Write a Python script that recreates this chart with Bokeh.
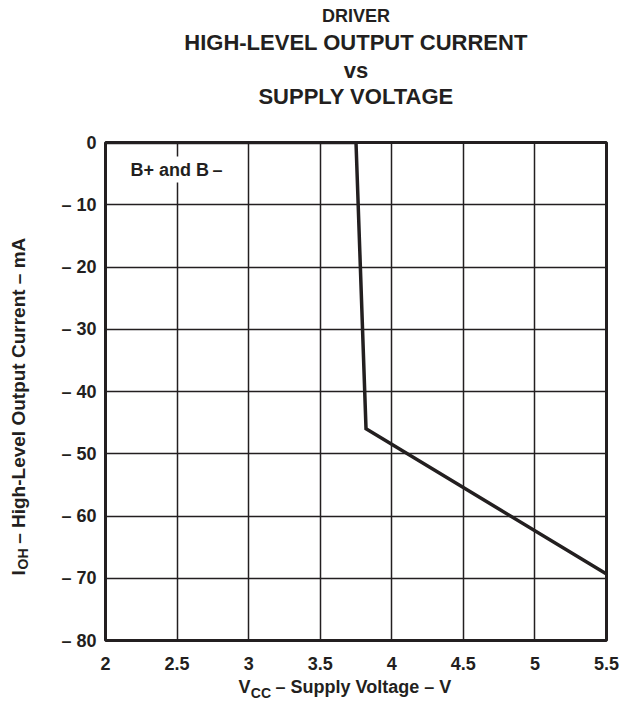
import math
from bokeh.plotting import figure
from bokeh.models import Range1d, FixedTicker, Label, Title
from bokeh.embed import file_html
from bokeh.resources import INLINE

# ---- data ----
vcc = [2.0, 3.75, 3.82, 5.5]
ioh = [0.0, 0.0, -46.0, -69.3]
x_ticks = [2, 2.5, 3, 3.5, 4, 4.5, 5, 5.5]
x_tick_labels = ["2", "2.5", "3", "3.5", "4", "4.5", "5", "5.5"]
y_ticks = [0, -10, -20, -30, -40, -50, -60, -70, -80]
y_tick_labels = ["0", "\u2013 10", "\u2013 20", "\u2013 30", "\u2013 40",
                 "\u2013 50", "\u2013 60", "\u2013 70", "\u2013 80"]
title_lines = ["DRIVER", "HIGH-LEVEL OUTPUT CURRENT", "vs", "SUPPLY VOLTAGE"]
annotation_text = "B+ and B\u2009\u2013"
NB = "\u00a0"
x_label_main = "V" + NB * 4 + " \u2013 Supply Voltage \u2013 V"
x_label_sub = "CC"
y_label_main = "I" + NB * 4 + " \u2013 High-Level Output Current \u2013 mA"
y_label_sub = "OH"

FONT = "Liberation Sans"
INK = "#231f20"

W, H = 626, 711
FL, FR, FT, FB = 105, 606, 142, 640  # frame in page pixels
XMIN, XMAX, YMIN, YMAX = 2.0, 5.5, -80.0, 0.0


def dx(px):
    return XMIN + (px - FL) / (FR - FL) * (XMAX - XMIN)


def dy(py):
    return YMAX - (py - FT) / (FB - FT) * (YMAX - YMIN)


p = figure(width=W, height=H, output_backend="svg", toolbar_location=None,
           x_range=Range1d(XMIN, XMAX), y_range=Range1d(YMIN, YMAX),
           min_border_left=FL, min_border_right=W - FR,
           min_border_top=FT, min_border_bottom=H - FB)

p.outline_line_color = INK
p.outline_line_width = 3
p.background_fill_color = "white"
p.border_fill_color = "white"

p.xaxis.ticker = FixedTicker(ticks=x_ticks)
p.yaxis.ticker = FixedTicker(ticks=y_ticks)
p.xaxis.major_label_overrides = {t: l for t, l in zip(x_ticks, x_tick_labels)}
p.yaxis.major_label_overrides = {t: l for t, l in zip(y_ticks, y_tick_labels)}
for ax in (p.xaxis, p.yaxis):
    ax.axis_line_color = None
    ax.major_tick_line_color = None
    ax.minor_tick_line_color = None
    ax.major_tick_in = 0
    ax.major_tick_out = 0
    ax.major_label_text_font = FONT
    ax.major_label_text_font_style = "bold"
    ax.major_label_text_font_size = "18px"
    ax.major_label_text_color = INK
p.xaxis.major_label_standoff = 16
p.yaxis.major_label_standoff = 9

p.xgrid.ticker = FixedTicker(ticks=x_ticks)
p.ygrid.ticker = FixedTicker(ticks=y_ticks)
p.grid.grid_line_color = INK
p.grid.grid_line_width = 1.5
p.grid.grid_line_alpha = 1.0

p.line(vcc, ioh, line_color=INK, line_width=3.5, line_join="miter")

# annotation in plot
p.add_layout(Label(x=dx(127), y=dy(169), text=annotation_text,
                   text_font=FONT, text_font_style="bold", text_font_size="18px",
                   text_color=INK, text_baseline="middle", text_align="left",
                   background_fill_color="white", border_line_color=None,
                   padding=3))

# ---- title block (stacked Titles above the frame) ----
def title(text, size, standoff):
    p.add_layout(Title(text=text, align="center", text_font=FONT,
                       text_font_style="bold", text_font_size=size,
                       text_color=INK, standoff=standoff), "above")


title(" ", "1px", 30)          # spacer next to the frame
title(title_lines[3], "22px", 1)
title(title_lines[2], "22px", -2)
title(title_lines[1], "22px", 4)
title(title_lines[0], "18px", 0)


def side_label(text, size, sx, sy, angle=0.0, side="left"):
    p.add_layout(Label(x=sx, y=sy, x_units="screen", y_units="screen",
                       text=text, angle=angle, text_font=FONT,
                       text_font_style="bold", text_font_size=size,
                       text_color=INK, text_align="left",
                       text_baseline="middle"), side)


# y label (rotated) and its subscript, in the left panel
side_label(y_label_main, "19px", 19 - 38.2, 640 - 575, angle=math.pi / 2)
side_label(y_label_sub, "14px", 23 - 21.4, 640 - 569, angle=math.pi / 2)
# x label subscript, also in left panel (only its width is stacked there)
side_label(x_label_sub, "14px", 250.5 - 1.2, 640 - 692)
# x label main text, below panel
side_label(x_label_main, "18px", 238 - 105, 5.7, side="below")

open("out.html", "w").write(file_html(p, INLINE))
